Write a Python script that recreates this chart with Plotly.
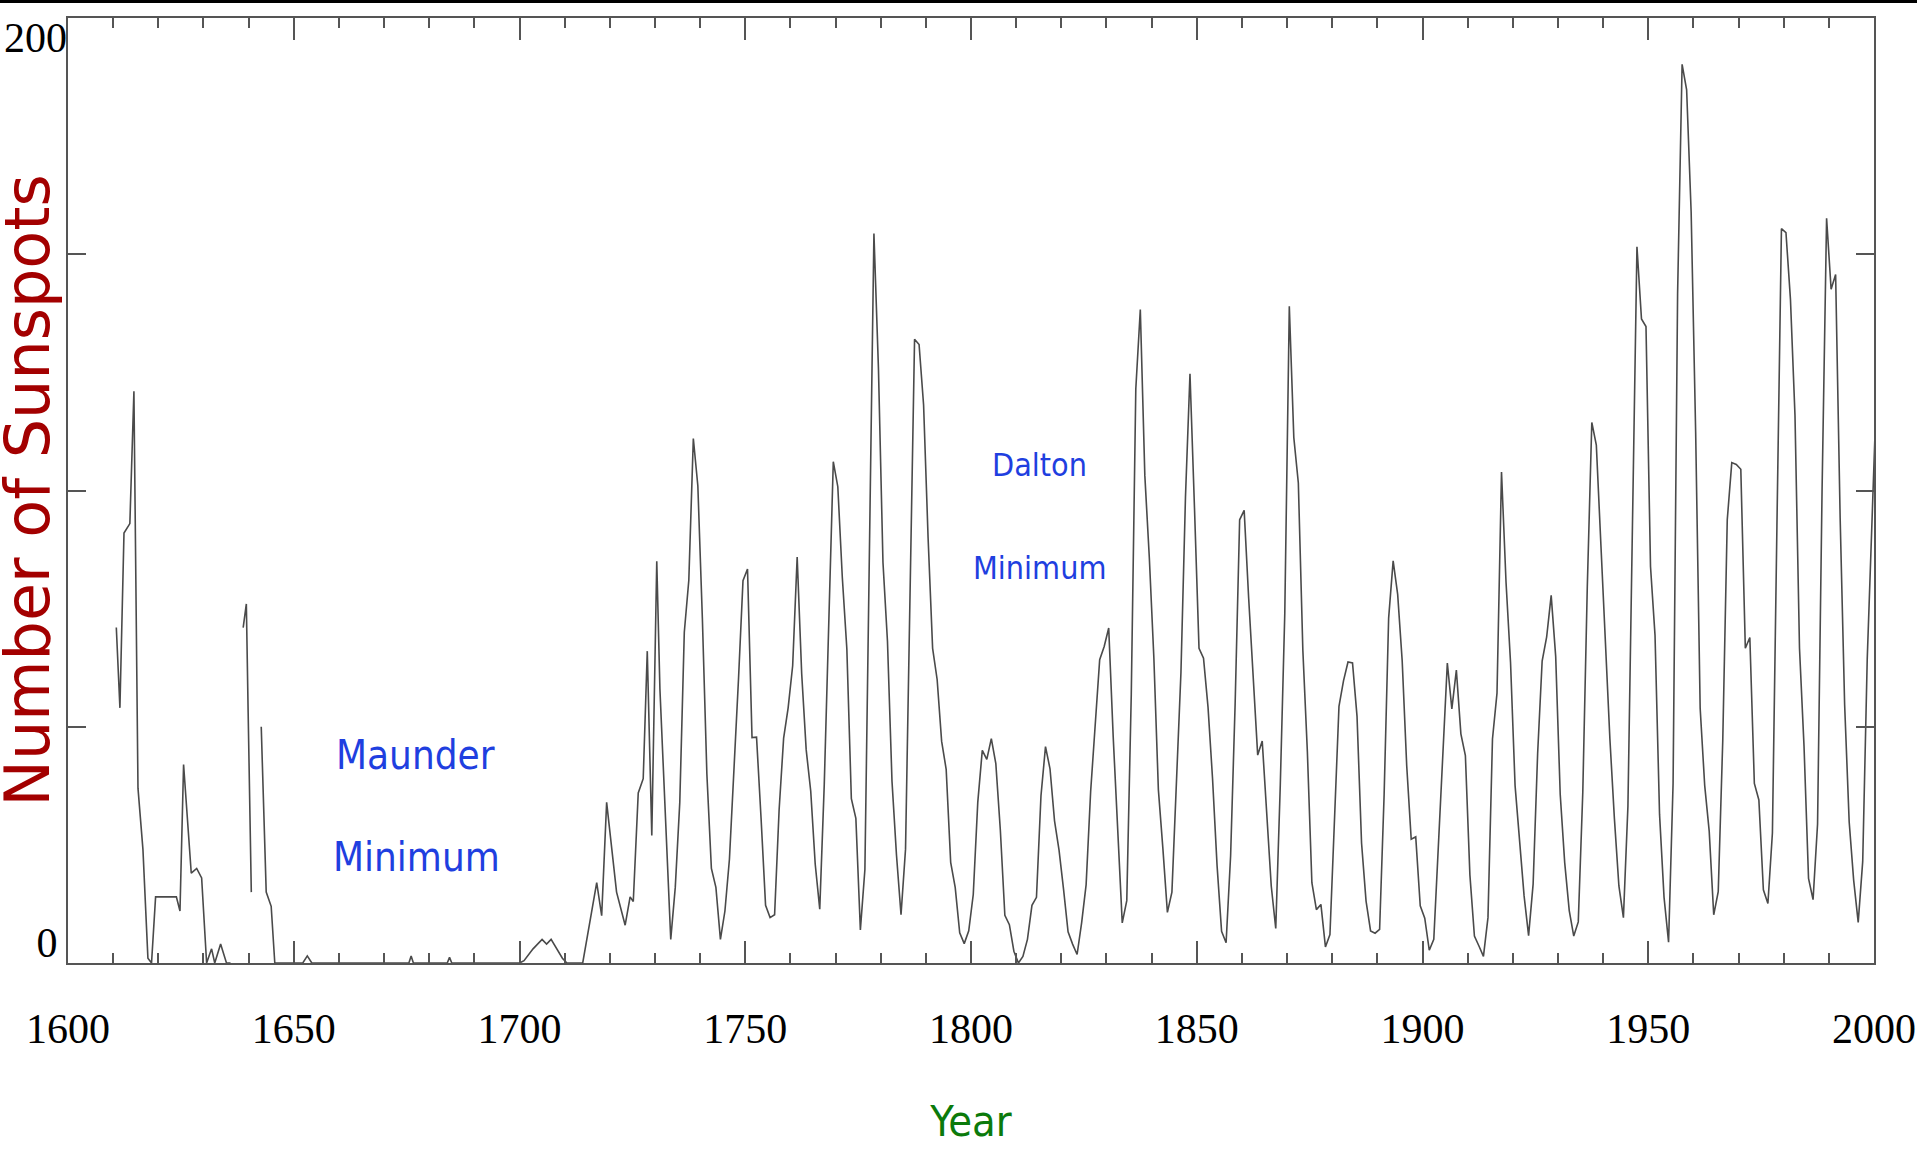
import plotly.graph_objects as go

# ---- Early (group) sunspot numbers: (year, value); None = data gap
early_years = [1610.7, 1611.5, 1612.4, 1613.7, 1614.6, 1615.2, 1615.5, 1616.6, 1617.7, 1618.5,
               1619.4, 1624.0, 1624.8, 1625.6, 1627.3, 1628.5, 1629.6, 1630.7, 1631.8, 1632.5,
               1633.8, 1635.1, 1636.0,
               1637.0,
               1638.8, 1639.5, 1639.9, 1640.6,
               1641.5,
               1642.8, 1643.9, 1645.0, 1645.8, 1652.0, 1653.0, 1654.0, 1675.5, 1676.0, 1676.5,
               1684.0, 1684.5, 1685.0, 1700.0, 1701.0, 1703.0, 1705.0, 1706.0, 1707.0, 1708.0,
               1709.5, 1710.5, 1714.0, 1717.1, 1718.2, 1719.3, 1721.5, 1723.4, 1724.5, 1725.2,
               1726.3, 1727.4, 1728.3, 1729.3, 1730.4, 1731.1]
early_values = [71, 54, 91, 93, 121, 71, 37, 24, 1, 0,
                14, 14, 11, 42, 19, 20, 18, 0, 3, 0,
                4, 0, 0,
                None,
                71, 76, 53, 15,
                None,
                50, 15, 12, 0, 0, 1.5, 0, 0, 1.5, 0,
                0, 1.2, 0, 0, 0.5, 3, 5, 4, 5, 3.5,
                1, 0, 0, 17, 10, 34, 15, 8, 14, 13,
                36, 39, 66, 27, 85, 58]

# ---- Yearly sunspot numbers 1733-2000 (plotted at mid-year)
wolf_start = 1733
wolf_values = [
    5, 16, 34, 70, 81, 111, 101, 73, 40, 20, 16, 5, 11, 22, 40, 60, 80.9,
    83.4, 47.7, 47.8, 30.7, 12.2, 9.6, 10.2, 32.4, 47.6, 54.0,
    62.9, 85.9, 61.2, 45.1, 36.4, 20.9, 11.4, 37.8, 69.8, 106.1,
    100.8, 81.6, 66.5, 34.8, 30.6, 7.0, 19.8, 92.5, 154.4, 125.9,
    84.8, 68.1, 38.5, 22.8, 10.2, 24.1, 82.9, 132.0, 130.9, 118.1,
    89.9, 66.6, 60.0, 46.9, 41.0, 21.3, 16.0, 6.4, 4.1, 6.8,
    14.5, 34.0, 45.0, 43.1, 47.5, 42.2, 28.1, 10.1, 8.1, 2.5,
    0.0, 1.4, 5.0, 12.2, 13.9, 35.4, 45.8, 41.1, 30.1, 23.9,
    15.6, 6.6, 4.0, 1.8, 8.5, 16.6, 36.3, 49.6, 64.2, 67.0,
    70.9, 47.8, 27.5, 8.5, 13.2, 56.9, 121.5, 138.3, 103.2, 85.7,
    64.6, 36.7, 24.2, 10.7, 15.0, 40.1, 61.5, 98.5, 124.7, 96.3,
    66.6, 64.5, 54.1, 39.0, 20.6, 6.7, 4.3, 22.7, 54.8, 93.8,
    95.8, 77.2, 59.1, 44.0, 47.0, 30.5, 16.3, 7.3, 37.6, 74.0,
    139.0, 111.2, 101.6, 66.2, 44.7, 17.0, 11.3, 12.4, 3.4, 6.0,
    32.3, 54.3, 59.7, 63.7, 63.5, 52.2, 25.4, 13.1, 6.8, 6.3,
    7.1, 35.6, 73.0, 85.1, 78.0, 64.0, 41.8, 26.2, 26.7, 12.1,
    9.5, 2.7, 5.0, 24.4, 42.0, 63.5, 53.8, 62.0, 48.5, 43.9,
    18.6, 5.7, 3.6, 1.4, 9.6, 47.4, 57.1, 103.9, 80.6, 63.6,
    37.6, 26.1, 14.2, 5.8, 16.7, 44.3, 63.9, 69.0, 77.8, 64.9,
    35.7, 21.2, 11.1, 5.7, 8.7, 36.1, 79.7, 114.4, 109.6, 88.8,
    67.8, 47.5, 30.6, 16.3, 9.6, 33.2, 92.6, 151.6, 136.3, 134.7,
    83.9, 69.4, 31.5, 13.9, 4.4, 38.0, 141.7, 190.2, 184.8, 159.0,
    112.3, 53.9, 37.6, 27.9, 10.2, 15.1, 47.0, 93.8, 105.9, 105.5,
    104.5, 66.6, 68.9, 38.0, 34.5, 15.5, 12.6, 27.5, 92.5, 155.4,
    154.6, 140.4, 115.9, 66.6, 45.9, 17.9, 13.4, 29.4, 100.2, 157.6,
    142.6, 145.7, 94.3, 54.6, 29.9, 17.5, 8.6, 21.5, 64.3, 93.3,
    119.6,
]
wolf_years = [wolf_start + i for i in range(len(wolf_values))]

x_ticks = [1600, 1650, 1700, 1750, 1800, 1850, 1900, 1950, 2000]
y_ticks = [0, 50, 100, 150, 200]

annotations_text = [("Maunder", 1677.0, 44.0, 40), ("Minimum", 1677.1, 22.5, 40),
                    ("Dalton", 1815.2, 105.5, 32), ("Minimum", 1815.1, 83.6, 32)]

x_all = early_years + [y + 0.5 for y in wolf_years]
y_all = early_values + wolf_values

LINE = "#555555"
NARROW = "Liberation Sans Narrow, DejaVu Sans Condensed, Arial Narrow, sans-serif"
SERIF = "Liberation Serif, Times New Roman, serif"

fig = go.Figure()
fig.add_trace(go.Scatter(x=x_all, y=y_all, mode="lines",
                         line=dict(color="#4a4a4a", width=1.6),
                         connectgaps=False, showlegend=False))
fig.add_trace(go.Scatter(x=[], y=[], yaxis="y2", showlegend=False, hoverinfo="skip"))

for txt, xx, yy, sz in annotations_text:
    fig.add_annotation(x=xx, y=yy, xref="x", yref="y", text=txt, showarrow=False,
                       font=dict(family=NARROW, size=sz, color="#1f3fe0"),
                       xanchor="center", yanchor="middle")

fig.add_annotation(x=-0.0227, y=0.5, xref="paper", yref="paper", text="Number of Sunspots",
                   textangle=-90, showarrow=False,
                   font=dict(family="DejaVu Sans, Liberation Sans, sans-serif", size=62,
                             color="#a30000"),
                   xanchor="center", yanchor="middle")

fig.add_shape(type="line", xref="paper", yref="paper", x0=-0.05, x1=1.05,
              y0=1 + 16.5 / 945, y1=1 + 16.5 / 945, line=dict(color="black", width=3))

fig.update_layout(
    width=1917, height=1156,
    margin=dict(l=68, r=43, t=18, b=193, autoexpand=False),
    paper_bgcolor="white", plot_bgcolor="white",
    xaxis=dict(range=[1600, 2000], tickvals=x_ticks, ticks="inside", ticklen=22, tickwidth=2,
               tickcolor=LINE, showline=True, linewidth=2, linecolor=LINE, mirror="ticks",
               showgrid=False, zeroline=False, automargin=False,
               minor=dict(dtick=10, ticks="inside", ticklen=10, tickwidth=2, tickcolor=LINE,
                          showgrid=False),
               tickfont=dict(family=SERIF, size=42, color="black"), ticklabelstandoff=28,
               title=dict(text="Year", standoff=54,
                          font=dict(family=NARROW, size=43, color="#0b7a0b"))),
    yaxis=dict(range=[0, 200], tickvals=y_ticks, ticktext=["0", "", "", "", ""],
               ticks="inside", ticklen=18, tickwidth=2, tickcolor=LINE,
               showline=True, linewidth=2, linecolor=LINE, mirror="ticks",
               showgrid=False, zeroline=False, ticklabelposition="outside top",
               ticklabelshift=10, automargin=False,
               tickfont=dict(family=SERIF, size=42, color="black")),
    yaxis2=dict(range=[0, 200], overlaying="y", side="left", tickvals=[200], ticktext=["200"],
                ticks="", showline=False, showgrid=False, zeroline=False,
                ticklabelposition="outside bottom", ticklabelshift=-10, automargin=False,
                tickfont=dict(family=SERIF, size=42, color="black")),
)

fig.write_html("out.html", config={"displayModeBar": False},
               post_script="document.body.style.margin='0';")
